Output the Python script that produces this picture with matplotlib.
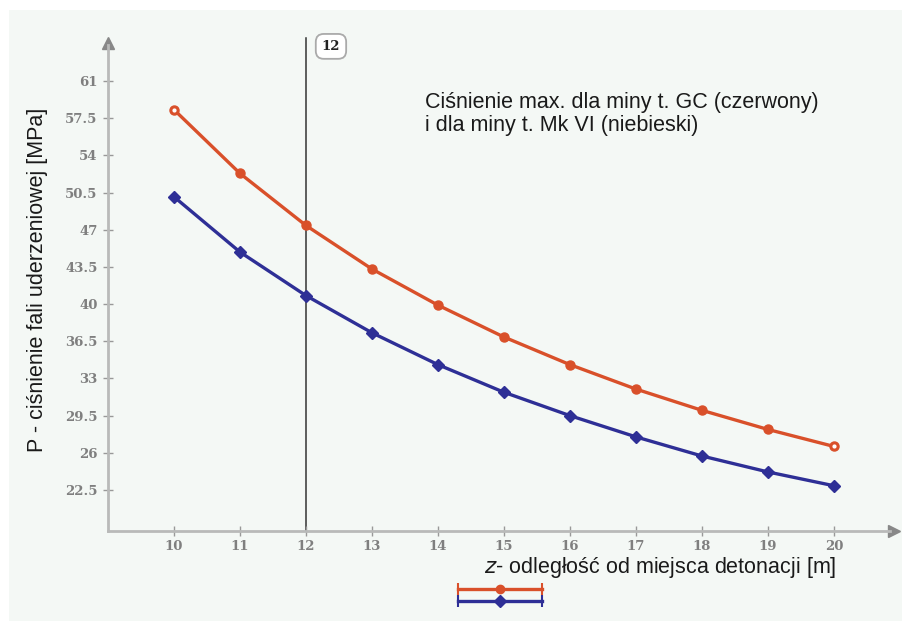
import numpy as np
import matplotlib
matplotlib.use('Agg')
import matplotlib.pyplot as plt
from matplotlib.lines import Line2D
from matplotlib.patches import Rectangle

# Distance from detonation point [m]
z = np.array([10, 11, 12, 13, 14, 15, 16, 17, 18, 19, 20])
# Peak pressure for mine type GC (red) and Mk VI (blue) [MPa]
p_gc = np.array([58.3, 52.3, 47.4, 43.3, 39.9, 36.9, 34.3, 32.0, 30.0, 28.2, 26.6])
p_mk6 = np.array([50.1, 44.9, 40.8, 37.3, 34.3, 31.7, 29.5, 27.5, 25.7, 24.2, 22.9])

y_ticks = [22.5, 26, 29.5, 33, 36.5, 40, 43.5, 47, 50.5, 54, 57.5, 61]
y_tick_labels = ['22.5', '26', '29.5', '33', '36.5', '40', '43.5', '47', '50.5', '54', '57.5', '61']
x_marker = 12

red = '#d9502a'
blue = '#2e2f96'
axis_grey = '#b9bab9'
bg = '#f4f8f5'

plt.rcParams['font.family'] = ['Liberation Sans', 'DejaVu Sans']

W, H = 902, 621
fig = plt.figure(figsize=(W / 100, H / 100), dpi=100)
fig.patch.set_facecolor('white')
fig.add_artist(Rectangle((9 / W, 0), 1, 1 - 10 / H, transform=fig.transFigure,
                         facecolor=bg, edgecolor='none', zorder=-10))

ax = fig.add_axes([108 / W, 90 / H, (890 - 108) / W, (531 - 45) / H])
ax.set_facecolor('none')
ax.set_xlim(9.0, 20.85)
ax.set_ylim(18.64, 64.39)

for s in ['top', 'right']:
    ax.spines[s].set_visible(False)
for s in ['left', 'bottom']:
    ax.spines[s].set_color(axis_grey)
    ax.spines[s].set_linewidth(2)

# axis arrows
ax.plot(1.005, 0, '>', transform=ax.transAxes, clip_on=False, color='#888888', ms=8)
ax.plot(0, 1.005, '^', transform=ax.transAxes, clip_on=False, color='#888888', ms=8)

ax.set_xticks(z)
ax.set_xticklabels([str(v) for v in z])
ax.set_yticks(y_ticks)
ax.set_yticklabels(y_tick_labels)
ax.tick_params(direction='inout', length=7, width=1, color='#999999',
               labelcolor='#7f7f7f', pad=4)
ax.tick_params(axis='x', pad=3)
for lab in ax.get_xticklabels() + ax.get_yticklabels():
    lab.set_fontfamily('DejaVu Serif')
    lab.set_fontweight('bold')
    lab.set_fontsize(9.5)

# vertical marker line
ax.axvline(x_marker, ymin=0, ymax=1.015, color='#333333', lw=1.1, clip_on=False, zorder=1)
ax.annotate(str(x_marker), xy=(x_marker, 1.0), xycoords=('data', 'axes fraction'),
            xytext=(18, -1), textcoords='offset points', ha='center', va='center',
            fontsize=9.5, fontweight='bold', family='DejaVu Serif', color='#222222',
            bbox=dict(boxstyle='round,pad=0.45,rounding_size=0.6', fc='white',
                      ec='#aaaaaa', lw=1.3), annotation_clip=False)

# data series
ax.plot(z, p_gc, color=red, lw=2.4, marker='o', ms=6.5, zorder=3)
ax.plot(z[[0, -1]], p_gc[[0, -1]], ls='none', marker='o', ms=2, color='white', zorder=4)
ax.plot(z, p_mk6, color=blue, lw=2.4, marker='D', ms=6, zorder=3)

ax.text(13.8, 60.0, 'Ciśnienie max. dla miny t. GC (czerwony)\ni dla miny t. Mk VI (niebieski)',
        fontsize=15.5, color='#1a1a1a', va='top', ha='left', linespacing=1.15)

fig.text(38 / W, 1 - 280 / H, 'P - ciśnienie fali uderzeniowej [MPa]', rotation=90,
         fontsize=15.5, color='#1a1a1a', ha='center', va='center')
fig.text(836 / W, 1 - 568 / H, r'$\mathit{z}$' + '- odległość od miejsca detonacji [m]',
         fontsize=15.5, color='#1a1a1a', ha='right', va='center')

# legend keys
for ypix, col, mk in [(589, red, 'o'), (601, blue, 'D')]:
    yf = 1 - ypix / H
    fig.add_artist(Line2D([458 / W, 542 / W], [yf, yf], transform=fig.transFigure,
                          color=col, lw=2.4))
    fig.add_artist(Line2D([458 / W, 542 / W], [yf, yf], transform=fig.transFigure,
                          color=col, ls='none', marker='|', ms=8, mew=1.5))
    fig.add_artist(Line2D([500 / W], [yf], transform=fig.transFigure,
                          color=col, ls='none', marker=mk, ms=6))

fig.savefig('out.png', dpi=100)
